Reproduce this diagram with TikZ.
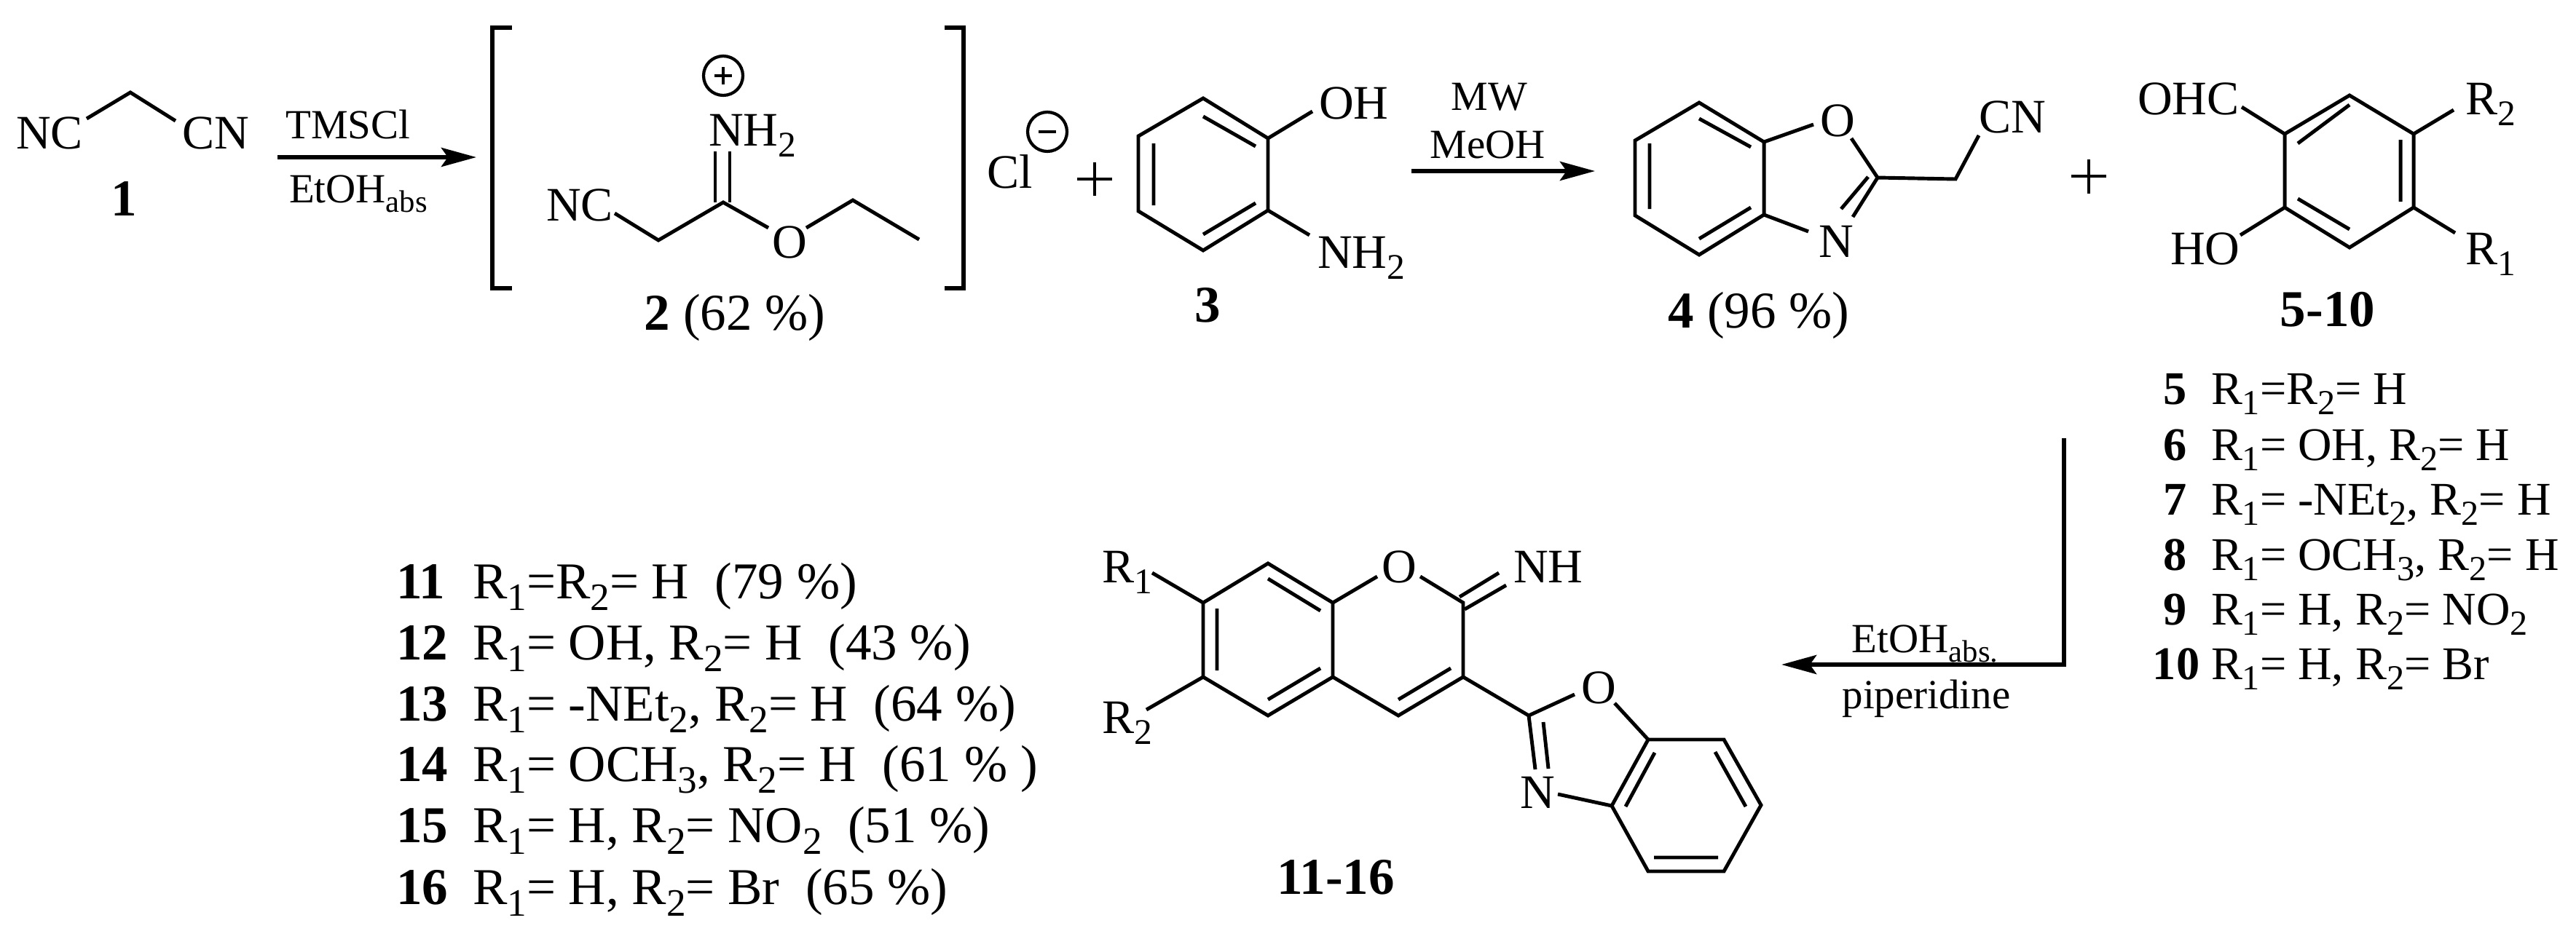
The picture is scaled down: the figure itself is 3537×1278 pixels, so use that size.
\documentclass[tikz,border=0pt]{standalone}
\usepackage{fontspec}
\usepackage{graphicx}
\setmainfont{Liberation Serif}
\usetikzlibrary{arrows.meta}
\newcommand\sbs[1]{\raisebox{-.23em}{\scalebox{.75}{#1}}}
\newcommand\Rr[1]{R\sbs{#1}}
\tikzset{
  bond/.style={line width=1.4pt,line join=miter,miter limit=10},
  rxn/.style={line width=1.7pt,-{Stealth[length=4.8mm,width=2.6mm,inset=0.9mm]}},
  atom/.style={inner sep=0pt,outer sep=0pt,anchor=base west,font=\fontsize{18.8pt}{18.8pt}\selectfont},
  reag/.style={inner sep=0pt,outer sep=0pt,anchor=base,font=\fontsize{16.2pt}{16.2pt}\selectfont},
  label/.style={inner sep=0pt,outer sep=0pt,anchor=base,font=\fontsize{20.2pt}{20.2pt}\selectfont},
  lista/.style={inner sep=0pt,outer sep=0pt,anchor=base west,font=\fontsize{18.3pt}{18.3pt}\selectfont},
  numa/.style={lista,anchor=base,font=\fontsize{18.3pt}{18.3pt}\selectfont\bfseries},
  listb/.style={inner sep=0pt,outer sep=0pt,anchor=base west,font=\fontsize{20.2pt}{20.2pt}\selectfont},
  numb/.style={listb,font=\fontsize{20.2pt}{20.2pt}\selectfont\bfseries},
  charge/.style={line width=1.2pt}
}
\begin{document}
\begin{tikzpicture}[x=0.01cm,y=-0.01cm]
\useasboundingbox (0,0) rectangle (3537,1278);
% --- 1
\draw[bond] (119,163)--(179,127)--(241,166);
\node[atom] (nc1) at (22,204) {NC};
\node[atom] (cn1) at (250,204) {CN};
\node[label] (l1) at (170,296) {\textbf{1}};
% arrow 1
\coordinate (a1s) at (381,216); \coordinate (a1e) at (654,216);
\draw[rxn] (a1s)--(a1e);
\node[reag] (r1) at (478,190) {TMSCl};
\node[reag] (r2) at (492,278) {EtOH\sbs{abs}};
% --- bracket
\draw[bond,line width=1.6pt] (703,38)--(676,38)--(676,396)--(703,396);
\draw[bond,line width=1.6pt] (1297,38)--(1323,38)--(1323,396)--(1297,396);
% --- 2
\draw[charge] (993,104) circle (27);
\draw[charge] (981,104)--(1005,104) (993,92)--(993,116);
\node[atom] (nh2) at (973,200) {NH\sbs{2}};
\draw[bond] (982,208)--(982,278) (1002,208)--(1002,278);
\node[atom] (nc2) at (750,303) {NC};
\draw[bond] (844,293)--(904,330)--(993,278)--(1055,313);
\node[atom] (o2) at (1060,354) {O};
\draw[bond] (1107,313)--(1171,275)--(1262,329);
\node[label] (l2) at (1009,453) {\textbf{2} (62 \%)};
% --- Cl-
\node[atom] (cl) at (1355,258) {Cl};
\draw[charge] (1438,181) circle (27);
\draw[charge] (1426,181)--(1450,181);
\draw[line width=1.3pt] (1479,246)--(1527,246) (1503,223)--(1503,269);
% --- 3
\draw[bond] (1652,135)--(1741,190)--(1741,289)--(1652,344)--(1563,290)--(1563,187)--cycle;
\draw[bond] (1652,160)--(1724,201) (1584,197)--(1584,282) (1724,279)--(1652,322);
\draw[bond] (1741,190)--(1802,153) (1741,289)--(1798,323);
\node[atom] (oh3) at (1811,163) {OH};
\node[atom] (nh3) at (1809,368) {NH\sbs{2}};
\node[label] (l3) at (1658,442) {\textbf{3}};
% arrow 2
\node[reag] (r3) at (2045,151) {MW};
\node[reag] (r4) at (2043,217) {MeOH};
\coordinate (a2s) at (1938,235); \coordinate (a2e) at (2190,235);
\draw[rxn] (a2s)--(a2e);
% --- 4
\draw[bond] (2333,141)--(2422,195)--(2422,295)--(2333,350)--(2245,296)--(2245,193)--cycle;
\draw[bond] (2333,163)--(2404,202) (2265,197)--(2265,287) (2404,285)--(2333,328);
\draw[bond] (2422,195)--(2490,171) (2542,190)--(2578,244)--(2685,246)--(2717,186);
\draw[bond] (2578,244)--(2544,298) (2565,243)--(2528,287) (2422,295)--(2483,318);
\node[atom] (o4) at (2499,187) {O};
\node[atom] (cn4) at (2717,182) {CN};
\node[atom] (n4) at (2497,353) {N};
\node[label] (l4) at (2415,450) {\textbf{4} (96 \%)};
\draw[line width=1.3pt] (2844,242)--(2892,242) (2868,219)--(2868,266);
% --- 5-10
\draw[bond] (3226,131)--(3314,184)--(3314,285)--(3226,340)--(3137,285)--(3137,184)--cycle;
\draw[bond] (3226,144)--(3155,197) (3296,192)--(3296,277) (3155,273)--(3226,315);
\draw[bond] (3137,184)--(3078,147) (3314,184)--(3369,151) (3137,285)--(3076,323) (3314,285)--(3371,320);
\node[atom] (ohc) at (2935,157) {OHC};
\node[atom] (r25) at (3385,157) {\Rr{2}};
\node[atom] (ho) at (2980,363) {HO};
\node[atom] (r15) at (3385,363) {\Rr{1}};
\node[label] (l5) at (3196,448) {\textbf{5-10}};
% list 5-10
\node[numa] (n5) at (2987,555) {5};   \node[lista] (t5) at (3036,555) {\Rr{1}=\Rr{2}= H};
\node[numa] (n6) at (2987,632) {6};   \node[lista] (t6) at (3036,632) {\Rr{1}= OH, \Rr{2}= H};
\node[numa] (n7) at (2987,707) {7};   \node[lista] (t7) at (3036,707) {\Rr{1}= -NEt\sbs{2}, \Rr{2}= H};
\node[numa] (n8) at (2987,783) {8};   \node[lista] (t8) at (3036,783) {\Rr{1}= OCH\sbs{3}, \Rr{2}= H};
\node[numa] (n9) at (2987,858) {9};   \node[lista] (t9) at (3036,858) {\Rr{1}= H, \Rr{2}= NO\sbs{2}};
\node[numa] (n10) at (2988,933) {10}; \node[lista] (t10) at (3036,933) {\Rr{1}= H, \Rr{2}= Br};
% arrow 3
\coordinate (a3s) at (2834,602); \coordinate (a3c) at (2834,913); \coordinate (a3e) at (2446,913);
\draw[rxn,line join=miter] (a3s)--(a3c)--(a3e);
\node[reag] (r5) at (2643,896) {EtOH\sbs{abs.}};
\node[reag] (r6) at (2645,973) {piperidine};
% --- 11-16
\draw[bond] (1652,828)--(1741,774)--(1830,828)--(1830,930)--(1741,983)--(1652,930)--cycle;
\draw[bond] (1741,795)--(1813,839) (1671,836)--(1671,921) (1813,918)--(1741,961);
\draw[bond] (1830,828)--(1891,792) (1950,792)--(2009,828)--(2009,930)--(1920,983)--(1830,930);
\draw[bond] (2004,820)--(2058,787) (2011,837)--(2068,804) (1992,918)--(1920,961);
\draw[bond] (2009,930)--(2099,983)--(2162,954) (2217,966)--(2263,1016);
\draw[bond] (2099,983)--(2108,1057) (2119,992)--(2126,1056) (2139,1091)--(2213,1107);
\draw[bond] (2263,1016)--(2367,1016)--(2418,1106)--(2367,1197)--(2263,1197)--(2213,1107)--cycle;
\draw[bond] (2272,1034)--(2232,1108) (2355,1033)--(2397,1108) (2271,1178)--(2359,1178);
\draw[bond] (1582,787)--(1652,828) (1652,930)--(1574,975);
\node[atom] (r111) at (1513,800) {\Rr{1}};
\node[atom] (r211) at (1513,1007) {\Rr{2}};
\node[atom] (o11) at (1897,800) {O};
\node[atom] (nh11) at (2078,800) {NH};
\node[atom] (o12) at (2171,966) {O};
\node[atom] (n11) at (2087,1110) {N};
\node[label] (l11) at (1834,1228) {\textbf{11-16}};
% list 11-16
\node[numb] (n1a) at (544,822) {11};  \node[listb] (t1a) at (649,822) {\Rr{1}=\Rr{2}= H~~(79 \%)};
\node[numb] (n2a) at (544,906) {12};  \node[listb] (t2a) at (649,906) {\Rr{1}= OH, \Rr{2}= H~~(43 \%)};
\node[numb] (n3a) at (544,990) {13};  \node[listb] (t3a) at (649,990) {\Rr{1}= -NEt\sbs{2}, \Rr{2}= H~~(64 \%)};
\node[numb] (n4a) at (544,1073) {14}; \node[listb] (t4a) at (649,1073) {\Rr{1}= OCH\sbs{3}, \Rr{2}= H~~(61 \% )};
\node[numb] (n5a) at (544,1157) {15}; \node[listb] (t5a) at (649,1157) {\Rr{1}= H, \Rr{2}= NO\sbs{2}~~(51 \%)};
\node[numb] (n6a) at (544,1242) {16}; \node[listb] (t6a) at (649,1242) {\Rr{1}= H, \Rr{2}= Br~~(65 \%)};
\end{tikzpicture}
\end{document}
